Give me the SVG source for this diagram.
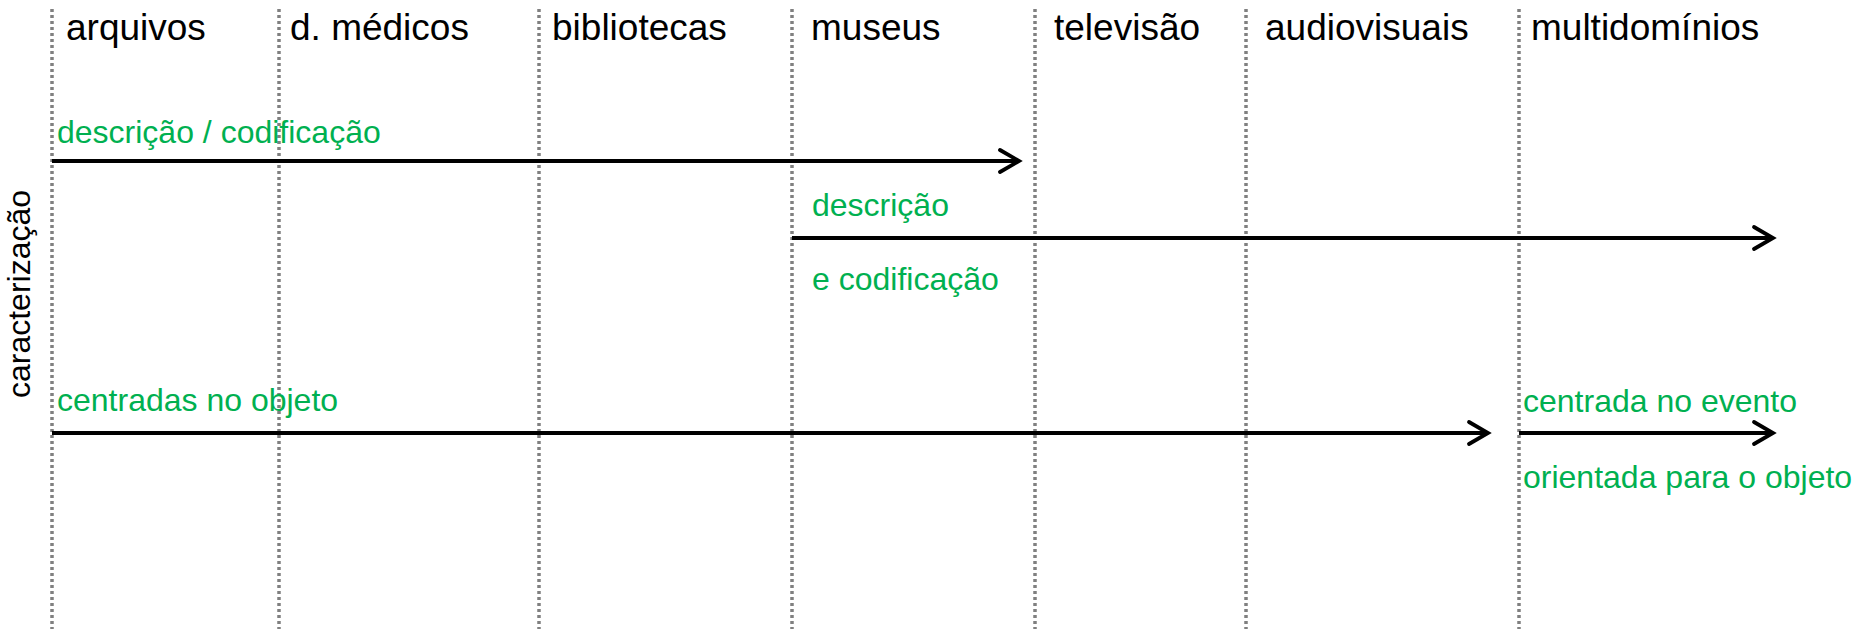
<svg xmlns="http://www.w3.org/2000/svg" width="1856" height="629" viewBox="0 0 1856 629">
<style>
.grid{stroke:#808080;stroke-width:3.5;stroke-dasharray:3 3;fill:none}
.hdr{font-family:"Liberation Sans",Arial,sans-serif;font-size:37px;fill:#000}
.lbl{font-family:"Liberation Sans",Arial,sans-serif;font-size:32px;fill:#00B050}
.ax{font-family:"Liberation Sans",Arial,sans-serif;font-size:32px;fill:#000}
.conn{stroke:#000;stroke-width:3.8;fill:none}
.head{stroke:#000;stroke-width:3.8;fill:none;stroke-linecap:round;stroke-linejoin:miter}
</style>
<rect width="1856" height="629" fill="#fff"/>
<g id="grid">
<line class="grid" x1="52" y1="9" x2="52" y2="629"/>
<line class="grid" x1="279" y1="9" x2="279" y2="629"/>
<line class="grid" x1="539" y1="9" x2="539" y2="629"/>
<line class="grid" x1="792" y1="9" x2="792" y2="629"/>
<line class="grid" x1="1035" y1="9" x2="1035" y2="629"/>
<line class="grid" x1="1246" y1="9" x2="1246" y2="629"/>
<line class="grid" x1="1519" y1="9" x2="1519" y2="629"/>
</g>
<g id="headers">
<text class="hdr" x="66" y="40">arquivos</text>
<text class="hdr" x="290" y="40">d. médicos</text>
<text class="hdr" x="552" y="40">bibliotecas</text>
<text class="hdr" x="811" y="40">museus</text>
<text class="hdr" x="1054" y="40">televisão</text>
<text class="hdr" x="1265" y="40">audiovisuais</text>
<text class="hdr" x="1531" y="40">multidomínios</text>
</g>
<g id="axis">
<text class="ax" transform="translate(30,294) rotate(-90)" text-anchor="middle">caracterização</text>
</g>
<g id="connectors">
<line class="conn" x1="52" y1="161" x2="1017" y2="161"/>
<polyline class="head" points="1000,150 1019,161 1000,172"/>
<line class="conn" x1="792" y1="238" x2="1771" y2="238"/>
<polyline class="head" points="1754,227 1773,238 1754,249"/>
<line class="conn" x1="52" y1="433" x2="1486" y2="433"/>
<polyline class="head" points="1469,422 1488,433 1469,444"/>
<line class="conn" x1="1519" y1="433" x2="1771" y2="433"/>
<polyline class="head" points="1754,422 1773,433 1754,444"/>
</g>
<g id="labels">
<text class="lbl" x="57" y="143">descrição / codificação</text>
<text class="lbl" x="812" y="216">descrição</text>
<text class="lbl" x="812" y="290">e codificação</text>
<text class="lbl" x="57" y="411">centradas no objeto</text>
<text class="lbl" x="1523" y="412">centrada no evento</text>
<text class="lbl" x="1523" y="488">orientada para o objeto</text>
</g>
</svg>
